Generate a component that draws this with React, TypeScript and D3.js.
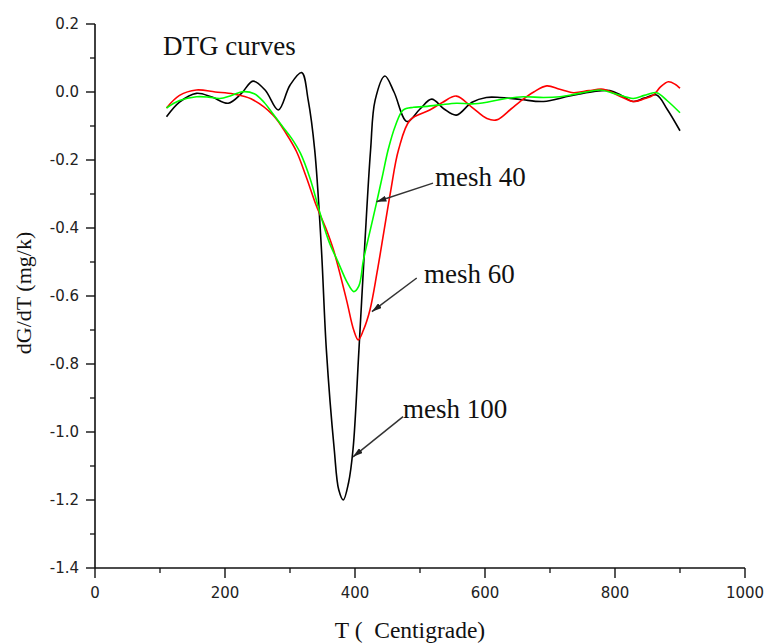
import React from 'react';
import * as d3 from 'd3';

// DTG curves: temperature (°C) and dG/dT (mg/k)
const mesh100T = [110, 130, 156, 180, 205, 225, 243, 262, 282, 300, 318, 328, 338, 348, 356, 368, 375, 382, 390, 397, 406, 415, 424, 431, 446, 460, 480, 500, 518, 537, 556, 580, 602, 623, 655, 690, 730, 766, 792, 810, 828, 845, 864, 880, 900];
const mesh100V = [-0.073, -0.03, -0.004, -0.015, -0.033, -0.005, 0.032, 0.005, -0.053, 0.02, 0.057, -0.024, -0.17, -0.45, -0.76, -1.05, -1.17, -1.2, -1.15, -1.05, -0.76, -0.45, -0.17, -0.024, 0.047, 0.0, -0.087, -0.05, -0.021, -0.05, -0.068, -0.03, -0.016, -0.016, -0.022, -0.028, -0.012, 0.001, 0.004, -0.01, -0.028, -0.018, -0.009, -0.05, -0.114];

const mesh60T = [110, 130, 156, 185, 213, 240, 274, 295, 310, 325, 341, 355, 367, 387, 398, 405, 413, 423, 434, 444, 455, 467, 485, 515, 535, 556, 580, 603, 618, 640, 654, 675, 695, 715, 736, 760, 782, 805, 828, 845, 859, 870, 882, 893, 900];
const mesh60V = [-0.047, -0.01, 0.006, 0.0, -0.006, -0.02, -0.068, -0.125, -0.175, -0.25, -0.337, -0.4, -0.465, -0.612, -0.7, -0.729, -0.7, -0.641, -0.53, -0.416, -0.29, -0.17, -0.082, -0.053, -0.03, -0.012, -0.045, -0.078, -0.082, -0.05, -0.028, 0.0, 0.018, 0.008, -0.002, 0.004, 0.008, -0.01, -0.028, -0.02, -0.009, 0.015, 0.03, 0.022, 0.011];

const mesh40T = [110, 130, 156, 175, 192, 210, 228, 245, 260, 274, 288, 302, 316, 331, 346, 360, 374, 388, 398, 406, 413, 423, 433, 443, 451, 462, 474, 490, 505, 530, 556, 580, 603, 630, 659, 690, 715, 745, 777, 800, 828, 845, 864, 880, 900];
const mesh40V = [-0.047, -0.025, -0.014, -0.015, -0.019, -0.01, 0.001, -0.005, -0.03, -0.065, -0.1, -0.135, -0.18, -0.255, -0.355, -0.44, -0.5, -0.56, -0.587, -0.57, -0.494, -0.41, -0.327, -0.24, -0.17, -0.1, -0.053, -0.045, -0.043, -0.038, -0.033, -0.035, -0.03, -0.02, -0.014, -0.016, -0.014, -0.004, 0.006, -0.005, -0.019, -0.01, -0.002, -0.025, -0.061];

const xTicks = [0, 200, 400, 600, 800, 1000];
const xMinor = [100, 300, 500, 700, 900];
const yTicks = [0.2, 0.0, -0.2, -0.4, -0.6, -0.8, -1.0, -1.2, -1.4];
const yMinor = [0.1, -0.1, -0.3, -0.5, -0.7, -0.9, -1.1, -1.3];

// annotation labels: text anchor, arrow tail and arrow tip in data units
const noteText = ['mesh 40', 'mesh 60', 'mesh 100'];
const noteTextAt = [[523, -0.276], [506, -0.563], [474, -0.959]];
const noteTail = [[520, -0.268], [495, -0.547], [474, -0.955]];
const noteTip = [[433, -0.323], [426, -0.646], [397, -1.073]];

const series = [
  { name: 'mesh 100', T: mesh100T, V: mesh100V, color: '#000000' },
  { name: 'mesh 60', T: mesh60T, V: mesh60V, color: '#ff0000' },
  { name: 'mesh 40', T: mesh40T, V: mesh40V, color: '#00ff00' },
];

const W = 770;
const H = 644;
const serif = '"Liberation Serif", "Times New Roman", serif';
const sans = '"DejaVu Sans", sans-serif';

export default function App() {
  const x = d3.scaleLinear().domain([0, 1000]).range([95, 745]);
  const y = d3.scaleLinear().domain([-1.4, 0.2]).range([568, 24]);

  const pathFor = (T: number[], V: number[]) =>
    d3
      .line<number>()
      .x(i => x(T[i]))
      .y(i => y(V[i]))
      .curve(d3.curveCatmullRom.alpha(0.5))(d3.range(T.length)) || '';

  const x0 = x(0);
  const y0 = y(-1.4);

  return (
    <svg width={W} height={H} style={{ position: 'absolute', left: 0, top: 0, background: '#fff' }}>
      <defs>
        <marker id="arr" viewBox="0 0 10 6" refX="10" refY="3" markerWidth="10" markerHeight="6" markerUnits="userSpaceOnUse" orient="auto">
          <path d="M0,0 L10,3 L0,6 Z" fill="#222" />
        </marker>
      </defs>

      {/* axes */}
      <line x1={x0} x2={x0} y1={y(0.2)} y2={y0} stroke="#111" strokeWidth={1.6} />
      <line x1={x0} x2={x(1000)} y1={y0} y2={y0} stroke="#111" strokeWidth={1.6} />
      {yTicks.map(t => (
        <g key={'y' + t}>
          <line x1={x0 - 9} x2={x0} y1={y(t)} y2={y(t)} stroke="#111" strokeWidth={1.4} />
          <text x={x0 - 16} y={y(t)} dy="0.36em" textAnchor="end" fontFamily={sans} fontSize={15} fill="#222">
            {t.toFixed(1)}
          </text>
        </g>
      ))}
      {yMinor.map(t => (
        <line key={'ym' + t} x1={x0 - 5} x2={x0} y1={y(t)} y2={y(t)} stroke="#111" strokeWidth={1.3} />
      ))}
      {xTicks.map(t => (
        <g key={'x' + t}>
          <line x1={x(t)} x2={x(t)} y1={y0} y2={y0 + 10} stroke="#111" strokeWidth={1.4} />
          <text x={x(t)} y={y0 + 30} textAnchor="middle" fontFamily={sans} fontSize={15} fill="#222">
            {t}
          </text>
        </g>
      ))}
      {xMinor.map(t => (
        <line key={'xm' + t} x1={x(t)} x2={x(t)} y1={y0} y2={y0 + 5} stroke="#111" strokeWidth={1.3} />
      ))}

      {/* axis titles */}
      <text x={410} y={638} textAnchor="middle" fontFamily={serif} fontSize={23.5} fill="#111">
        {'T (\u00a0 Centigrade)'}
      </text>
      <text transform="translate(31,293) rotate(-90)" textAnchor="middle" fontFamily={serif} fontSize={22} fill="#111">
        dG/dT (mg/k)
      </text>
      <text x={163} y={55} fontFamily={serif} fontSize={27} fill="#111">
        DTG curves
      </text>

      {/* curves */}
      {series.map(s => (
        <path key={s.name} d={pathFor(s.T, s.V)} fill="none" stroke={s.color} strokeWidth={1.6} />
      ))}

      {/* annotations */}
      {noteText.map((label, i) => (
        <g key={label}>
          <line
            x1={x(noteTail[i][0])}
            y1={y(noteTail[i][1])}
            x2={x(noteTip[i][0])}
            y2={y(noteTip[i][1])}
            stroke="#333"
            strokeWidth={1.5}
            markerEnd="url(#arr)"
          />
          <text x={x(noteTextAt[i][0])} y={y(noteTextAt[i][1])} fontFamily={serif} fontSize={27} fill="#111">
            {label}
          </text>
        </g>
      ))}
    </svg>
  );
}
